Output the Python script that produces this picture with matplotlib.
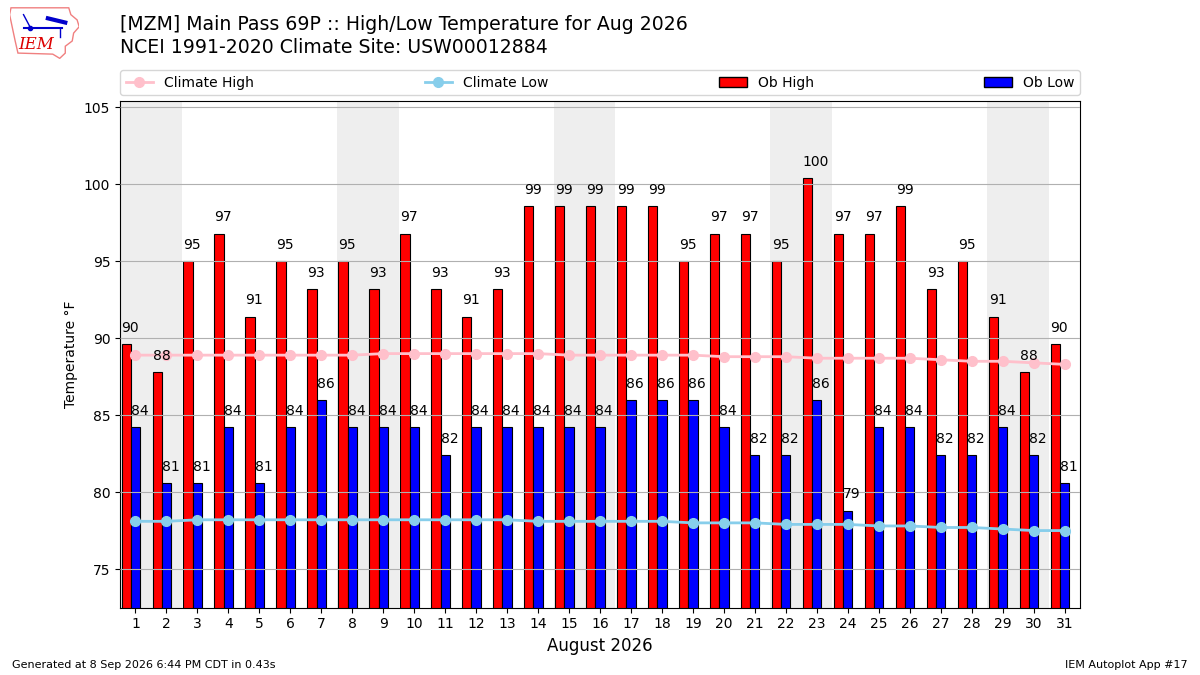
import matplotlib
matplotlib.use("Agg")
import matplotlib.pyplot as plt
from matplotlib.patches import Patch, Polygon
from matplotlib.lines import Line2D
import numpy as np

days = list(range(1, 32))
ob_high = [89.6, 87.8, 95.0, 96.8, 91.4, 95.0, 93.2, 95.0, 93.2, 96.8,
           93.2, 91.4, 93.2, 98.6, 98.6, 98.6, 98.6, 98.6, 95.0, 96.8,
           96.8, 95.0, 100.4, 96.8, 96.8, 98.6, 93.2, 95.0, 91.4, 87.8, 89.6]
ob_low = [84.2, 80.6, 80.6, 84.2, 80.6, 84.2, 86.0, 84.2, 84.2, 84.2,
          82.4, 84.2, 84.2, 84.2, 84.2, 84.2, 86.0, 86.0, 86.0, 84.2,
          82.4, 82.4, 86.0, 78.8, 84.2, 84.2, 82.4, 82.4, 84.2, 82.4, 80.6]
clim_high = [88.9, 88.9, 88.9, 88.9, 88.9, 88.9, 88.9, 88.9, 89.0, 89.0,
             89.0, 89.0, 89.0, 89.0, 88.9, 88.9, 88.9, 88.9, 88.9, 88.8,
             88.8, 88.8, 88.7, 88.7, 88.7, 88.7, 88.6, 88.5, 88.5, 88.4, 88.3]
clim_low = [78.1, 78.1, 78.2, 78.2, 78.2, 78.2, 78.2, 78.2, 78.2, 78.2,
            78.2, 78.2, 78.2, 78.1, 78.1, 78.1, 78.1, 78.1, 78.0, 78.0,
            78.0, 77.9, 77.9, 77.9, 77.8, 77.8, 77.7, 77.7, 77.6, 77.5, 77.5]
weekend_starts = [1, 8, 15, 22, 29]

title = ("[MZM] Main Pass 69P :: High/Low Temperature for Aug 2026\n"
         "NCEI 1991-2020 Climate Site: USW00012884")

fig = plt.figure(figsize=(12, 6.75), dpi=100)
ax = fig.add_axes([0.1, 0.1, 0.8, 0.75])

x = np.array(days, dtype=float)
for d in weekend_starts:
    ax.axvspan(d - 0.5, d + 1.5, color="#eeeeee", zorder=0, lw=0)

ax.bar(x - 0.3, ob_high, width=0.3, color="r", edgecolor="k", lw=0.8, zorder=2)
ax.bar(x, ob_low, width=0.3, color="b", edgecolor="k", lw=0.8, zorder=2)
for xi, h, l in zip(x, ob_high, ob_low):
    ax.text(xi - 0.45, h + 0.6, f"{h:.0f}", ha="left", va="bottom", fontsize=10, zorder=4)
    ax.text(xi - 0.15, l + 0.6, f"{l:.0f}", ha="left", va="bottom", fontsize=10, zorder=4)

ax.plot(x, clim_high, color="pink", marker="o", lw=2, ms=7, zorder=3)
ax.plot(x, clim_low, color="skyblue", marker="o", lw=2, ms=7, zorder=3)

ax.set_xlim(0.5, 31.5)
ymin = min(min(clim_low), min(ob_low)) - 5
ymax = max(max(ob_high), max(clim_high)) + 5
ax.set_ylim(ymin, ymax)
ax.set_xticks(days)
ax.set_xticklabels([str(d) for d in days])
ax.set_yticks(np.arange(75, 106, 5))
ax.grid(axis="y", color="#b0b0b0", zorder=1)
ax.set_axisbelow(False)
ax.tick_params(labelsize=10)
ax.set_xlabel("August 2026", fontsize=12)
ax.set_ylabel("Temperature \u00b0F")

handles = [
    Line2D([], [], color="pink", marker="o", lw=2, ms=7, label="Climate High"),
    Line2D([], [], color="skyblue", marker="o", lw=2, ms=7, label="Climate Low"),
    Patch(facecolor="r", edgecolor="k", label="Ob High"),
    Patch(facecolor="b", edgecolor="k", label="Ob Low"),
]
ax.legend(handles=handles, ncol=4, loc="lower left", mode="expand",
          bbox_to_anchor=(0, 1.012, 1, 0.05), borderaxespad=0, fontsize=10)

fig.text(0.1, 0.978, title, fontsize=13.6, va="top", ha="left", linespacing=1.3)
fig.text(0.01, 0.01, "Generated at 8 Sep 2026 6:44 PM CDT in 0.43s", fontsize=8)
fig.text(0.99, 0.01, "IEM Autoplot App #17", fontsize=8, ha="right")

# simple IEM logo approximation
lax = fig.add_axes([0.008, 0.912, 0.058, 0.078])
lax.set_xlim(0, 1)
lax.set_ylim(0, 1)
lax.axis("off")
outline = [(0.02, 0.98), (0.85, 0.98), (0.88, 0.85), (0.97, 0.75), (1.0, 0.62),
           (0.92, 0.5), (0.9, 0.35), (0.8, 0.25), (0.8, 0.12), (0.72, 0.02),
           (0.62, 0.1), (0.12, 0.12), (0.08, 0.35), (0.04, 0.6), (0.0, 0.85)]
lax.add_patch(Polygon(outline, closed=True, fill=False, edgecolor="#f08080", lw=1))
lax.plot([0.2, 0.75], [0.6, 0.6], color="#0000cc", lw=1.5)
lax.plot([0.2, 0.3], [0.85, 0.6], color="#0000cc", lw=1)
lax.plot([0.55, 0.8], [0.78, 0.7], color="#0000cc", lw=3)
lax.plot([0.72, 0.72], [0.6, 0.42], color="#0000cc", lw=1)
lax.plot([0.3], [0.6], marker="o", color="#0000cc", ms=3)
lax.text(0.12, 0.12, "IEM", color="#dd0000", fontsize=12, family="DejaVu Serif",
         style="italic", ha="left", va="bottom")

fig.savefig("out.png", dpi=100)
